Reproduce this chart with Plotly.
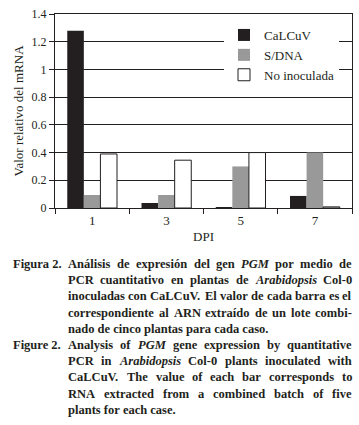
import plotly.graph_objects as go

# ---------------- data ----------------
dpi = ["1", "3", "5", "7"]
calcuv = [1.28, 0.036, 0.006, 0.087]
sdna = [0.094, 0.094, 0.30, 0.40]
no_inoculada = [0.39, 0.345, 0.40, 0.008]
series_names = ["CaLCuV", "S/DNA", "No inoculada"]
y_ticks = [0, 0.2, 0.4, 0.6, 0.8, 1.0, 1.2, 1.4]

caption_es_label = "Figura 2."
caption_es = [
    "Análisis de expresión del gen *PGM por medio de",
    "PCR cuantitativo en plantas de *Arabidopsis Col-0",
    "inoculadas con CaLCuV. El valor de cada barra es el",
    "correspondiente al ARN extraído de un lote combi-",
    "nado de cinco plantas para cada caso.",
]
caption_en_label = "Figure 2."
caption_en = [
    "Analysis of *PGM gene expression by quantitative",
    "PCR in *Arabidopsis Col-0 plants inoculated with",
    "CaLCuV. The value of each bar corresponds to",
    "RNA extracted from a combined batch of five",
    "plants for each case.",
]

# ---------------- style ----------------
FONT = "Liberation Serif, Times New Roman, serif"
INK = "#231f20"
W, H = 359, 425
ML, MR, MT, MB = 55, 7, 14, 217
PW = W - ML - MR
PH = H - MT - MB

fig = go.Figure()
fig.add_trace(go.Bar(x=dpi, y=calcuv, name=series_names[0],
                     marker=dict(color=INK, line=dict(width=0))))
fig.add_trace(go.Bar(x=dpi, y=sdna, name=series_names[1],
                     marker=dict(color="#999999", line=dict(width=0))))
fig.add_trace(go.Bar(x=dpi, y=no_inoculada, name=series_names[2],
                     marker=dict(color="white", line=dict(color=INK, width=1))))

fig.update_layout(
    width=W, height=H,
    margin=dict(l=ML, r=MR, t=MT, b=MB),
    paper_bgcolor="white", plot_bgcolor="white",
    barmode="group", bargap=0.33, bargroupgap=0,
    font=dict(family=FONT, size=12, color=INK),
    legend=dict(x=(224 - ML) / PW, xanchor="left", y=(208 - 20) / PH, yanchor="top",
                bgcolor="white", borderwidth=0, font=dict(size=13, family=FONT, color=INK)),
)
fig.update_xaxes(type="category", tickson="boundaries", ticks="outside", ticklen=5,
                 tickcolor=INK, showline=True, linecolor=INK, linewidth=1, mirror=True,
                 showgrid=False, tickfont=dict(size=13),
                 title=dict(text="DPI", font=dict(size=13), standoff=5))
fig.update_yaxes(range=[0, 1.4], tickvals=y_ticks, ticks="outside", ticklen=5,
                 tickcolor=INK, showline=True, linecolor=INK, linewidth=1, mirror=True,
                 showgrid=True, gridcolor=INK, gridwidth=1, zeroline=False,
                 tickfont=dict(size=12),
                 title=dict(text="Valor relativo del mRNA", font=dict(size=13), standoff=5))

# ---------------- caption (justified by word placement) ----------------
BOLD = {' ': 250, 'A': 722, 'B': 667, 'C': 722, 'D': 722, 'E': 667, 'F': 611, 'G': 778,
        'H': 778, 'I': 389, 'J': 500, 'K': 778, 'L': 667, 'M': 944, 'N': 722, 'O': 778,
        'P': 611, 'Q': 778, 'R': 722, 'S': 556, 'T': 667, 'U': 722, 'V': 722, 'W': 1000,
        'X': 722, 'Y': 722, 'Z': 667, 'a': 500, 'b': 556, 'c': 444, 'd': 556, 'e': 444,
        'f': 333, 'g': 500, 'h': 556, 'i': 278, 'j': 333, 'k': 556, 'l': 278, 'm': 833,
        'n': 556, 'o': 500, 'p': 556, 'q': 556, 'r': 444, 's': 389, 't': 333, 'u': 556,
        'v': 500, 'w': 722, 'x': 500, 'y': 500, 'z': 444, '.': 250, ',': 250, '-': 333,
        'á': 500, 'í': 278, 'ó': 500, '/': 278}
for d in "0123456789":
    BOLD[d] = 500
ITAL = {'A': 667, 'P': 611, 'G': 722, 'M': 889, 'r': 389, 'a': 500, 'b': 500,
        'i': 278, 'd': 500, 'o': 500, 'p': 500, 's': 389}
CAP_SIZE = 12.5
CAP_LEFT, CAP_RIGHT, LABEL_LEFT = 68, 352, 13
LINE0, LINE_STEP = 264, 16.2


def word_width(word, italic):
    tbl = ITAL if italic else BOLD
    return sum(tbl.get(c, BOLD.get(c, 500)) for c in word) * CAP_SIZE / 1000.0


def fmt(word, italic):
    return "<b><i>%s</i></b>" % word if italic else "<b>%s</b>" % word


def add_text(text, px, py, anchor="left"):
    fig.add_annotation(text=text, xref="paper", yref="paper",
                       x=(px - ML) / PW, y=(MT + PH - py) / PH,
                       xanchor=anchor, yanchor="middle", showarrow=False,
                       borderpad=0, borderwidth=0,
                       font=dict(family=FONT, size=CAP_SIZE, color=INK))


def add_line(line, py, justify):
    tokens = line.split(" ")
    words = [(t[1:], True) if t.startswith("*") else (t, False) for t in tokens]
    if not justify:
        add_text(" ".join(fmt(w, it) for w, it in words), CAP_LEFT, py)
        return
    widths = [word_width(w, it) for w, it in words]
    gap = (CAP_RIGHT - CAP_LEFT - sum(widths)) / (len(words) - 1)
    x = CAP_LEFT
    for i, ((w, it), wd) in enumerate(zip(words, widths)):
        if i == len(words) - 1:
            add_text(fmt(w, it), CAP_RIGHT, py, anchor="right")
        else:
            add_text(fmt(w, it), x, py)
        x += wd + gap


row = 0
for label, lines in ((caption_es_label, caption_es), (caption_en_label, caption_en)):
    for j, line in enumerate(lines):
        py = LINE0 + row * LINE_STEP
        if j == 0:
            add_text("<b>%s</b>" % label, LABEL_LEFT, py)
        add_line(line, py, justify=(j < len(lines) - 1))
        row += 1

fig.write_html("out.html", config={"displayModeBar": False},
               post_script="document.body.style.margin='0';")
